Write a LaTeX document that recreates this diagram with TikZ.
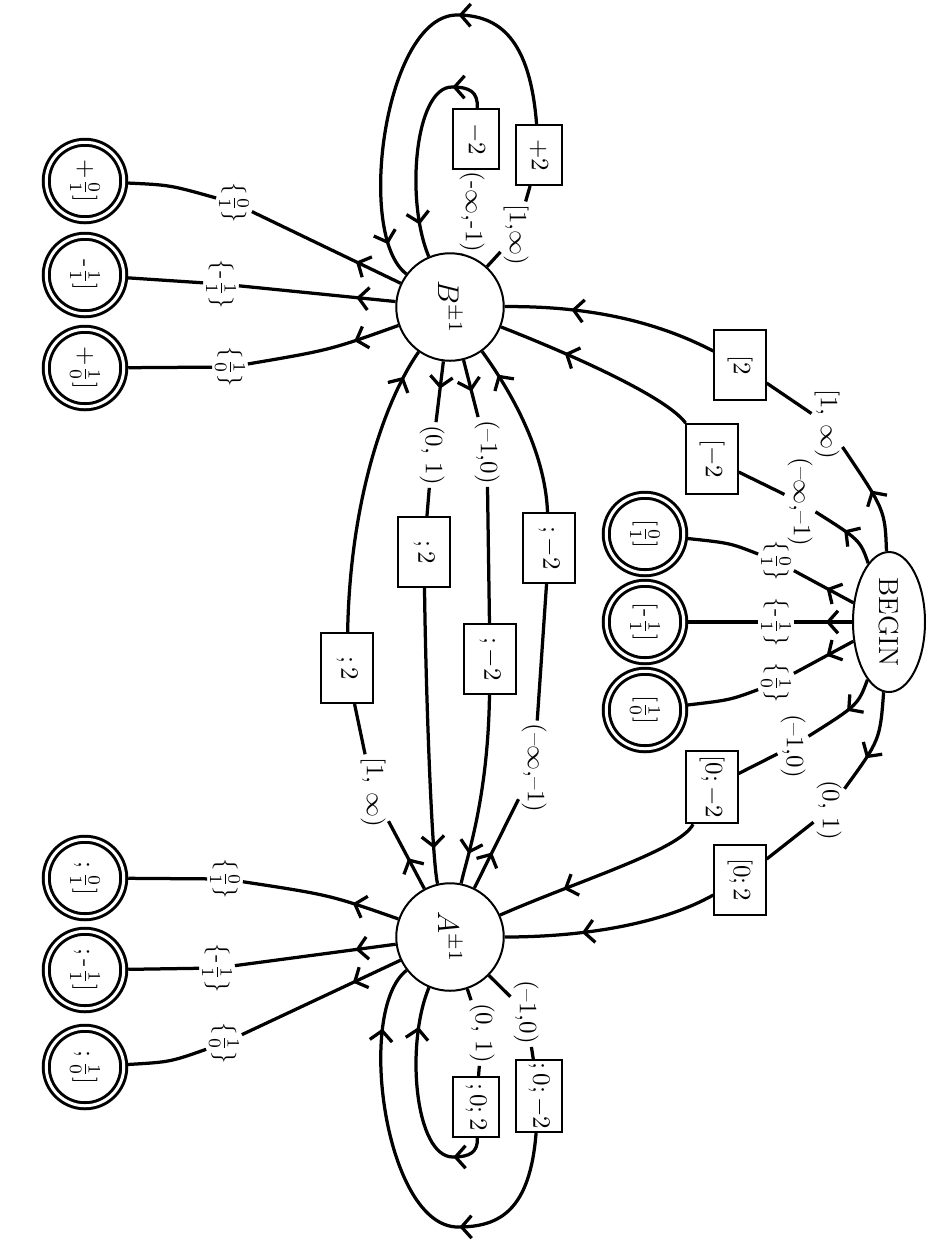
\documentclass[tikz,border=0pt]{standalone}
\usetikzlibrary{arrows.meta,decorations.markings,shapes.geometric}
\begin{document}
\begin{tikzpicture}[x=0.4pt,y=-0.4pt,
  every node/.style={rotate=-90},
  st/.style={circle,draw,line width=0.8pt,minimum size=43pt,inner sep=0pt,font=\large},
  fin/.style={circle,draw,double,line width=1.2pt,double distance=1.2pt,minimum size=31pt,inner sep=0pt,outer sep=1.8pt},
  lbl/.style={inner sep=1pt},
  bx/.style={draw,line width=0.8pt,minimum width=28pt,minimum height=20.5pt,inner sep=2pt},
  sbx/.style={draw,line width=0.8pt,minimum width=24pt,minimum height=18.5pt,inner sep=1pt},
  ed/.style={line width=1.3pt},
  ar/.style={postaction={decorate},decoration={markings,mark=at position #1 with {\arrow{Straight Barb[length=4pt,width=9pt]}}}},
]
\useasboundingbox (0,0) rectangle (940,1256);
% states
\node[st] (B) at (450,307) {$B^{\pm1}$};
\node[st] (A) at (450,937) {$A^{\pm1}$};
\node[ellipse,draw,line width=0.8pt,minimum width=56pt,minimum height=28.8pt,inner sep=0pt,font=\fontsize{11}{13}\selectfont] (S) at (889,622) {BEGIN};
% final states
\node[fin] (bf1) at (85,181) {$+\frac{0}{1}]$};
\node[fin] (bf2) at (85,275) {$\mbox{-}\frac{1}{1}]$};
\node[fin] (bf3) at (85,368) {$+\frac{1}{0}]$};
\node[fin] (af1) at (85,878) {$;\frac{0}{1}]$};
\node[fin] (af2) at (85,970) {$;\mbox{-}\frac{1}{1}]$};
\node[fin] (af3) at (85,1067) {$;\frac{1}{0}]$};
\node[fin] (gf1) at (645,534) {$[\frac{0}{1}]$};
\node[fin] (gf2) at (645,622) {$[\mbox{-}\frac{1}{1}]$};
\node[fin] (gf3) at (645,710) {$[\frac{1}{0}]$};
% final labels
\node[lbl] (bl1) at (234,203) {$\{\frac{0}{1}\}$};
\node[lbl] (bl2) at (221,284) {$\{\mbox{-}\frac{1}{1}\}$};
\node[lbl] (bl3) at (230,367) {$\{\frac{1}{0}\}$};
\node[lbl] (al1) at (225,879) {$\{\frac{0}{1}\}$};
\node[lbl] (al2) at (217,968) {$\{\mbox{-}\frac{1}{1}\}$};
\node[lbl] (al3) at (224,1043) {$\{\frac{1}{0}\}$};
\node[lbl] (gl1) at (776,561) {$\{\frac{0}{1}\}$};
\node[lbl] (gl2) at (776,622) {$\{\mbox{-}\frac{1}{1}\}$};
\node[lbl] (gl3) at (776,683) {$\{\frac{1}{0}\}$};
% boxes
\node[bx] (bx1) at (740,365) {$[2$};
\node[bx] (bx2) at (712,459) {$[-2$};
\node[bx] (bx3) at (712,787) {$[0;-2$};
\node[bx] (bx4) at (740,880) {$[0;2$};
\node[bx] (bx5) at (424,552) {$;2$};
\node[bx] (bx6) at (490,659) {$;-2$};
\node[bx] (bx7) at (347,668) {$;2$};
\node[bx] (bx8) at (549,548) {$;-2$};
\node[sbx] (bx9) at (476,139) {$-2$};
\node[sbx] (bx10) at (539,155) {$+2$};
\node[sbx] (bx11) at (476,1107) {$;0;2$};
\node[sbx] (bx12) at (539,1096) {$;0;-2$};
% edge labels
\node[lbl] (lg1) at (827,424) {[1, $\infty$)};
\node[lbl] (lg2) at (800,502) {(--$\infty$,--1)};
\node[lbl] (lg3) at (793,746) {(--1,0)};
\node[lbl] (lg4) at (829,810) {(0, 1)};
\node[lbl] (l5) at (432,455) {(0, 1)};
\node[lbl] (l6) at (487,452) {(--1,0)};
\node[lbl] (l7) at (373,792) {[1, $\infty$)};
\node[lbl] (l8) at (534,768) {(--$\infty$,--1)};
\node[lbl] (l9) at (472,212) {(-$\infty$,-1)};
\node[lbl] (l10) at (516,235) {[1,$\infty$)};
\node[lbl] (l11) at (482,1033) {(0, 1)};
\node[lbl] (l12) at (526,1012) {(--1,0)};
% loop apexes
\coordinate (ap9) at (452,87);
\coordinate (ap10) at (457,15);
\coordinate (ap11) at (453,1157);
\coordinate (ap12) at (458,1227);
% B to finals
\draw[ed,ar=0.3] (B) -- (bl1);
\draw[ed] (bl1) .. controls (170,185) .. (bf1);
\draw[ed,ar=0.25] (B) -- (bl2);
\draw[ed] (bl2) -- (bf2);
\draw[ed,ar=0.3] (B) .. controls (330,350) .. (bl3);
\draw[ed] (bl3) -- (bf3);
% A to finals
\draw[ed,ar=0.3] (A) .. controls (330,895) .. (al1);
\draw[ed] (al1) -- (af1);
\draw[ed,ar=0.25] (A) -- (al2);
\draw[ed] (al2) -- (af2);
\draw[ed,ar=0.3] (A) -- (al3);
\draw[ed] (al3) .. controls (170,1062) .. (af3);
% BEGIN to finals
\draw[ed,ar=0.45] (S) -- (gl1);
\draw[ed] (gl1) .. controls (730,543) .. (gf1);
\draw[ed,ar=0.45] (S) -- (gl2);
\draw[ed] (gl2) -- (gf2);
\draw[ed,ar=0.45] (S) -- (gl3);
\draw[ed] (gl3) .. controls (730,700) .. (gf3);
% BEGIN to B
\draw[ed,ar=0.55] (S) .. controls (885,510) .. (lg1);
\draw[ed] (lg1) -- (bx1);
\draw[ed,ar=0.69] (bx1) .. controls (650,318) and (580,306) .. (B);
\draw[ed,ar=0.55] (S) .. controls (860,540) .. (lg2);
\draw[ed] (lg2) -- (bx2);
\draw[ed,ar=0.67] (bx2) .. controls (665,395) and (560,350) .. (B);
% BEGIN to A
\draw[ed,ar=0.45] (S) .. controls (858,705) .. (lg3);
\draw[ed] (lg3) -- (bx3);
\draw[ed,ar=0.68] (bx3) .. controls (680,850) and (580,880) .. (A);
\draw[ed,ar=0.65] (S) .. controls (880,740) .. (lg4);
\draw[ed] (lg4) -- (bx4);
\draw[ed,ar=0.64] (bx4) .. controls (660,925) and (580,937) .. (A);
% B to A
\draw[ed,ar=0.45] (B) -- (l5);
\draw[ed] (l5) -- (bx5);
\draw[ed,ar=0.88] (bx5) .. controls (426,700) and (432,860) .. (A);
\draw[ed,ar=0.55] (B) -- (l6);
\draw[ed] (l6) -- (bx6);
\draw[ed,ar=0.84] (bx6) .. controls (488,800) and (466,860) .. (A);
% A to B
\draw[ed,ar=0.45] (A) -- (l7);
\draw[ed] (l7) -- (bx7);
\draw[ed,ar=0.9] (bx7) .. controls (350,500) and (385,400) .. (B);
\draw[ed,ar=0.4] (A) -- (l8);
\draw[ed] (l8) -- (bx8);
\draw[ed,ar=0.84] (bx8) .. controls (545,450) and (510,390) .. (B);
% B loops
\draw[ed] (B) -- (l9);
\draw[ed] (l9) -- (bx9);
\draw[ed,ar=0.99] (bx9) .. controls (478,92) and (470,87) .. (ap9);
\draw[ed,ar=0.82] (ap9) .. controls (415,87) and (405,200) .. (B);
\draw[ed] (B) -- (l10);
\draw[ed] (l10) -- (bx10);
\draw[ed,ar=0.99] (bx10) .. controls (530,40) and (500,15) .. (ap10);
\draw[ed,ar=0.88] (ap10) .. controls (385,15) and (355,235) .. (B);
% A loops
\draw[ed] (A) -- (l11);
\draw[ed] (l11) -- (bx11);
\draw[ed,ar=0.99] (bx11) .. controls (478,1152) and (470,1157) .. (ap11);
\draw[ed,ar=0.78] (ap11) .. controls (415,1157) and (405,1045) .. (A);
\draw[ed] (A) -- (l12);
\draw[ed] (l12) -- (bx12);
\draw[ed,ar=0.99] (bx12) .. controls (530,1210) and (500,1227) .. (ap12);
\draw[ed,ar=0.78] (ap12) .. controls (385,1227) and (355,1010) .. (A);
\end{tikzpicture}
\end{document}
